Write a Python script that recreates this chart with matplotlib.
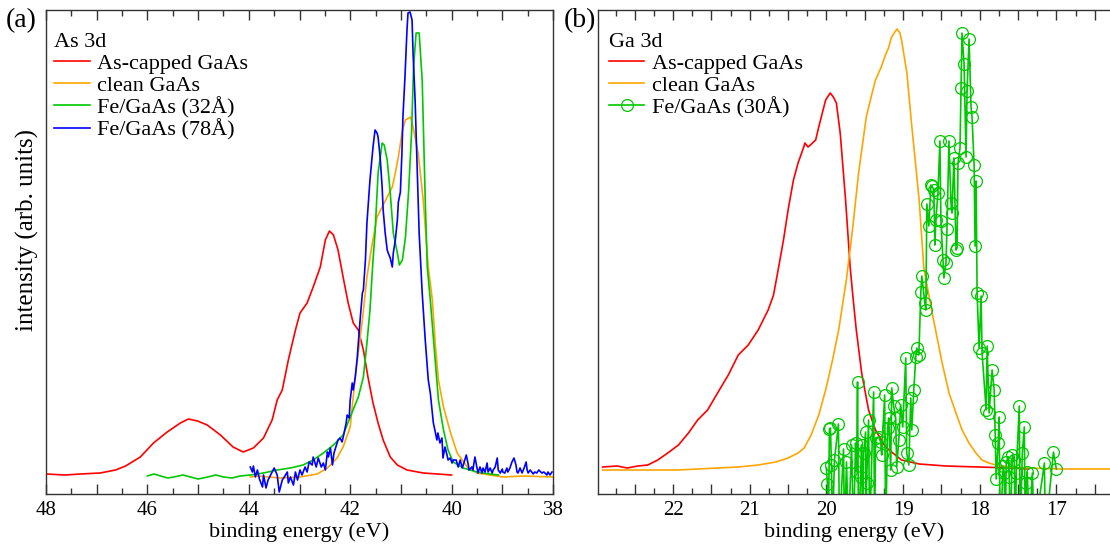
import matplotlib
matplotlib.use("Agg")
import matplotlib.pyplot as plt
from matplotlib.ticker import MultipleLocator, FuncFormatter

plt.rcParams['font.family'] = ['Liberation Serif', 'DejaVu Serif']

# ---------------- As 3d core level: (binding energy eV, intensity arb. units) ----------------
as3d_capped = [
    (48.0, 5.0), (47.62, 4.75), (47.32, 5.0), (46.93, 5.25), (46.63, 6.0), (46.43, 7.0),
    (46.14, 9.25), (45.88, 12.75), (45.61, 15.5), (45.35, 17.75), (45.19, 18.75), (45.01, 18.25),
    (44.82, 17.25), (44.56, 14.75), (44.31, 11.75), (44.11, 10.5), (43.91, 11.5), (43.71, 14.0),
    (43.54, 18.5), (43.44, 23.5), (43.34, 26.0), (43.22, 33.5), (43.08, 41.0), (42.99, 45.25),
    (42.85, 47.75), (42.73, 51.75), (42.59, 56.75), (42.49, 63.5), (42.41, 65.75), (42.33, 64.75),
    (42.24, 61.0), (42.14, 54.25), (42.04, 47.75), (41.94, 42.75), (41.84, 41.0), (41.74, 36.0),
    (41.65, 29.25), (41.55, 22.75), (41.45, 17.75), (41.35, 13.5), (41.21, 9.25), (41.07, 7.25),
    (40.88, 6.0), (40.56, 5.25), (40.0, 4.75),
]

as3d_clean = [
    (43.97, 4.25), (43.83, 4.5), (43.38, 4.0), (42.99, 4.25), (42.65, 5.0), (42.45, 6.5),
    (42.26, 9.0), (42.14, 11.75), (42.0, 16.75), (41.90, 29.25), (41.76, 43.5), (41.67, 54.25),
    (41.57, 62.25), (41.47, 69.25), (41.37, 71.75), (41.27, 74.25), (41.17, 76.75), (41.11, 80.25),
    (41.05, 84.25), (40.97, 91.0), (40.91, 93.5), (40.81, 94.25), (40.76, 91.75), (40.66, 85.25),
    (40.56, 73.5), (40.46, 56.75), (40.38, 48.5), (40.32, 37.25), (40.26, 28.5), (40.16, 21.75),
    (40.02, 15.25), (39.89, 10.25), (39.69, 6.75), (39.50, 5.25), (39.24, 4.75), (38.98, 4.25),
    (38.59, 4.5), (38.0, 4.25),
]

as3d_fe32 = [
    (46.0, 4.5), (45.87, 5.0), (45.74, 4.5), (45.6, 4.0), (45.48, 4.25), (45.3, 4.75),
    (45.15, 4.25), (45.0, 3.75), (44.81, 4.25), (44.65, 4.75), (44.50, 4.25), (44.33, 4.0),
    (44.17, 4.5), (43.97, 4.75), (43.71, 5.25), (43.44, 6.0), (43.18, 6.5), (42.93, 7.25),
    (42.73, 8.5), (42.53, 10.25), (42.33, 12.25), (42.14, 14.75), (42.0, 19.25), (41.84, 24.25),
    (41.74, 29.25), (41.67, 37.75), (41.61, 46.0), (41.55, 58.5), (41.51, 65.25), (41.45, 80.25),
    (41.37, 87.75), (41.33, 87.25), (41.27, 83.5), (41.21, 75.25), (41.15, 65.25), (41.07, 60.25),
    (41.03, 57.25), (40.97, 58.5), (40.91, 64.25), (40.85, 75.25), (40.79, 90.25), (40.75, 106.75),
    (40.70, 115.25), (40.64, 115.25), (40.58, 103.5), (40.52, 73.5), (40.48, 56.75), (40.42, 48.5),
    (40.34, 36.0), (40.26, 23.5), (40.16, 16.0), (40.07, 11.0), (39.97, 8.0), (39.77, 6.5),
    (39.50, 5.5), (39.24, 5.0), (39.08, 4.75),
]

as3d_fe78 = [
    (43.97, 6.75), (43.93, 5.5), (43.91, 7.0), (43.87, 4.25), (43.83, 6.0), (43.79, 3.75),
    (43.73, 1.75), (43.71, 4.75), (43.66, 1.5), (43.62, 3.5), (43.54, 5.5), (43.50, 6.5),
    (43.44, 4.75), (43.40, 0.5), (43.34, 3.5), (43.30, 4.25), (43.24, 5.5), (43.22, 2.75),
    (43.18, 4.25), (43.12, 2.25), (43.08, 5.5), (43.04, 3.5), (42.99, 6.0), (42.95, 4.75),
    (42.89, 6.75), (42.85, 5.5), (42.81, 8.0), (42.75, 7.25), (42.73, 9.25), (42.67, 6.75),
    (42.63, 9.0), (42.57, 6.75), (42.53, 7.75), (42.49, 6.0), (42.45, 10.5), (42.43, 9.25),
    (42.39, 11.5), (42.35, 7.25), (42.32, 10.25), (42.26, 12.75), (42.24, 13.5), (42.20, 14.0),
    (42.16, 13.0), (42.12, 15.25), (42.08, 17.75), (42.06, 19.75), (42.02, 19.0), (42.00, 23.5),
    (41.96, 27.75), (41.94, 26.0), (41.90, 29.25), (41.86, 34.25), (41.84, 37.75), (41.80, 44.25),
    (41.76, 50.25), (41.74, 51.0), (41.70, 58.5), (41.67, 67.75), (41.61, 78.5), (41.55, 86.75),
    (41.51, 91.0), (41.47, 90.25), (41.45, 89.25), (41.41, 84.25), (41.37, 76.75), (41.35, 71.0),
    (41.31, 65.25), (41.27, 61.0), (41.25, 60.25), (41.21, 59.0), (41.17, 56.75), (41.15, 60.25),
    (41.11, 63.5), (41.07, 68.5), (41.05, 73.0), (41.01, 75.5), (40.98, 85.25), (40.96, 94.25),
    (40.92, 104.25), (40.88, 116.0), (40.86, 120.25), (40.82, 120.5), (40.78, 118.5), (40.76, 110.25),
    (40.72, 98.5), (40.68, 81.75), (40.64, 65.25), (40.58, 50.25), (40.52, 38.5), (40.46, 28.5),
    (40.42, 25.25), (40.38, 20.25), (40.36, 17.75), (40.33, 16.0), (40.29, 13.5), (40.27, 15.25),
    (40.23, 12.75), (40.19, 14.0), (40.17, 9.0), (40.13, 11.75), (40.09, 9.75), (40.07, 8.5),
    (40.03, 9.0), (39.99, 7.75), (39.97, 8.5), (39.91, 8.5), (39.87, 6.75), (39.83, 8.5),
    (39.79, 6.5), (39.77, 7.25), (39.71, 9.75), (39.67, 7.25), (39.66, 6.0), (39.60, 6.75),
    (39.58, 6.0), (39.54, 9.25), (39.50, 6.5), (39.48, 5.25), (39.44, 6.75), (39.40, 5.25),
    (39.38, 6.5), (39.34, 5.5), (39.30, 7.75), (39.28, 5.5), (39.24, 6.5), (39.20, 5.25),
    (39.18, 6.0), (39.14, 6.75), (39.10, 9.0), (39.08, 6.0), (39.04, 5.25), (39.00, 6.25),
    (38.99, 5.5), (38.95, 5.25), (38.91, 6.5), (38.89, 5.5), (38.85, 6.5), (38.81, 8.0),
    (38.77, 9.0), (38.73, 7.25), (38.71, 5.5), (38.69, 5.25), (38.65, 6.5), (38.61, 5.25),
    (38.57, 6.5), (38.53, 8.0), (38.51, 6.0), (38.49, 5.25), (38.45, 6.0), (38.39, 5.0),
    (38.36, 5.5), (38.32, 5.25), (38.28, 6.0), (38.22, 5.25), (38.18, 5.5), (38.12, 4.75),
    (38.10, 5.5), (38.06, 4.75), (38.02, 5.5),
]

# ---------------- Ga 3d core level ----------------
ga3d_capped = [
    (22.92, 6.75), (22.73, 7.0), (22.60, 6.5), (22.46, 7.0), (22.33, 7.25), (22.20, 8.5),
    (22.07, 10.25), (21.93, 12.25), (21.80, 15.25), (21.68, 18.5), (21.55, 21.0), (21.42, 25.25),
    (21.28, 29.75), (21.15, 34.75), (21.02, 37.25), (20.89, 41.0), (20.76, 46.0), (20.69, 49.75),
    (20.63, 56.0), (20.56, 63.5), (20.50, 71.0), (20.43, 78.5), (20.37, 82.75), (20.30, 86.5),
    (20.28, 87.75), (20.24, 86.75), (20.21, 87.25), (20.14, 88.5), (20.10, 91.75), (20.05, 95.5),
    (20.01, 98.5), (19.95, 100.25), (19.91, 99.25), (19.87, 97.75), (19.82, 90.25), (19.75, 73.5),
    (19.69, 56.75), (19.65, 48.5), (19.61, 41.0), (19.54, 30.25), (19.45, 21.0), (19.36, 16.0),
    (19.23, 11.75), (19.02, 8.5), (18.79, 7.5), (18.44, 7.0), (18.01, 6.75), (17.58, 6.5),
    (17.36, 6.25),
]

ga3d_clean = [
    (22.92, 6.0), (22.46, 6.0), (21.94, 6.0), (21.68, 6.25), (21.42, 6.5), (21.15, 6.75),
    (20.89, 7.25), (20.66, 8.0), (20.50, 9.0), (20.37, 10.25), (20.29, 11.5), (20.20, 14.75),
    (20.10, 19.75), (20.01, 26.0), (19.92, 33.5), (19.84, 41.0), (19.74, 53.5), (19.66, 66.0),
    (19.58, 80.25), (19.53, 87.25), (19.48, 94.25), (19.41, 99.75), (19.36, 103.5), (19.29, 106.5),
    (19.23, 109.75), (19.19, 111.5), (19.15, 114.25), (19.08, 116.25), (19.04, 115.25), (19.02, 113.5),
    (18.95, 105.25), (18.89, 92.75), (18.79, 73.5), (18.73, 56.75), (18.70, 53.5), (18.62, 45.25),
    (18.49, 32.75), (18.40, 25.25), (18.31, 20.25), (18.23, 16.0), (18.14, 12.75), (18.05, 10.25),
    (17.97, 8.5), (17.88, 7.75), (17.79, 7.25), (17.61, 6.75), (17.35, 6.5), (16.96, 6.25),
    (16.57, 6.25), (16.30, 6.25),
]

# thin-film spectrum; points at -10 fall below the displayed intensity range
ga3d_fe30 = [
    (20.000, 6.5), (19.987, 2.5), (19.974, -10), (19.961, 16.25), (19.947, 16.5), (19.934, 7.25),
    (19.921, -10), (19.895, 8.5), (19.843, 17.5), (19.830, -10), (19.777, 11.25), (19.764, -10),
    (19.738, 8.0), (19.712, -10), (19.672, 12.25), (19.646, -10), (19.620, 12.75), (19.607, 5.5),
    (19.594, 28.0), (19.581, -10), (19.554, 4.25), (19.541, 12.25), (19.528, -10), (19.515, 10.25),
    (19.489, 15.5), (19.482, -10), (19.476, 2.75), (19.450, 18.5), (19.436, -10), (19.384, 25.5),
    (19.371, -10), (19.358, 14.0), (19.318, 14.25), (19.292, 13.0), (19.279, 9.75), (19.240, 24.75),
    (19.227, -10), (19.201, 16.5), (19.187, 19.0), (19.161, 6.0), (19.148, 26.5), (19.122, 22.0),
    (19.096, 19.0), (19.083, 6.75), (19.056, 13.5), (19.030, 22.25), (19.004, 16.75), (18.965, 34.0),
    (18.952, 10.25), (18.925, 7.25), (18.899, 24.0), (18.886, 16.0), (18.860, 26.0), (18.834, 34.25),
    (18.820, 36.5), (18.794, 34.75), (18.768, 50.5), (18.755, 54.5), (18.716, 47.75), (18.703, 46.0),
    (18.689, 72.5), (18.663, 67.0), (18.637, 77.25), (18.624, 77.0), (18.598, 76.0), (18.585, 62.25),
    (18.572, 68.5), (18.545, 75.25), (18.519, 88.25), (18.506, 68.25), (18.480, 58.5), (18.467, 54.0),
    (18.440, 57.75), (18.427, 66.25), (18.401, 88.25), (18.375, 72.75), (18.362, 70.25), (18.336, 84.0),
    (18.309, 61.0), (18.296, 61.5), (18.283, 82.75), (18.257, 86.5), (18.244, 101.5), (18.231, 115.25),
    (18.204, 107.5), (18.178, 84.25), (18.165, 100.75), (18.139, 113.75), (18.113, 96.75), (18.100, 94.25),
    (18.073, 82.25), (18.060, 62.0), (18.047, 78.25), (18.034, 50.25), (18.008, 36.5), (17.982, 49.5),
    (17.969, 35.25), (17.916, 21.0), (17.903, 37.0), (17.877, 20.25), (17.838, 31.0), (17.811, 26.0),
    (17.798, 14.75), (17.785, 3.75), (17.759, 12.75), (17.746, 19.25), (17.733, -10), (17.693, 7.0),
    (17.680, 5.25), (17.667, -10), (17.654, 8.0), (17.628, 9.25), (17.615, 4.25), (17.602, -10),
    (17.575, 9.75), (17.549, 8.5), (17.536, -10), (17.523, 5.25), (17.484, 22.0), (17.471, -10),
    (17.444, 10.25), (17.418, 16.75), (17.405, -10), (17.392, 2.75), (17.379, 5.5), (17.353, -10),
    (17.313, 5.25), (17.287, -10), (17.156, 7.75), (17.143, -10), (17.038, 10.5), (17.000, 6.25),
]

RED, ORANGE, GREEN, BLUE = '#ff0000', '#ffa500', '#00c800', '#0000ff'
LW = 1.2
TICK_FS = 15
LABEL_FS = 16
LEGEND_FS = 16


def xy(series):
    return [p[0] for p in series], [p[1] for p in series]


def style_axis(ax, xlim, major, minor, label_step):
    ax.set_xlim(*xlim)
    ax.set_ylim(0, 121)
    ax.xaxis.set_major_locator(MultipleLocator(major))
    ax.xaxis.set_minor_locator(MultipleLocator(minor))

    def fmt(v, pos):
        r = round(v)
        if abs(v - r) < 1e-6 and r % label_step == 0:
            return f"{r:d}"
        return ""

    ax.xaxis.set_major_formatter(FuncFormatter(fmt))
    ax.tick_params(axis='x', which='both', direction='in', top=True, bottom=True,
                   labelsize=TICK_FS, pad=5, color='#333333', width=1.0)
    ax.tick_params(axis='x', which='major', length=7)
    ax.tick_params(axis='x', which='minor', length=4)
    ax.tick_params(axis='y', which='both', left=False, right=False, labelleft=False)
    for s in ax.spines.values():
        s.set_color('#333333')
        s.set_linewidth(1.0)
    ax.set_xlabel('binding energy (eV)', fontsize=LABEL_FS, labelpad=2)


def add_legend(ax, title, x0):
    return ax.legend(loc='upper left', bbox_to_anchor=(x0, 0.952), title=title,
                     frameon=False, fontsize=LEGEND_FS, title_fontsize=LEGEND_FS,
                     handlelength=1.6, handletextpad=0.35, labelspacing=0.05,
                     borderpad=0, borderaxespad=0, alignment='left', numpoints=1)


fig = plt.figure(figsize=(11.10, 5.47), dpi=100)
ax_a = fig.add_axes([0.04144, 0.09689, 0.45676, 0.88483])
ax_b = fig.add_axes([0.53874, 0.09689, 0.46126, 0.88483])

# --- panel (a): As 3d ---
ax_a.plot(*xy(as3d_capped), color=RED, lw=LW, label='As-capped GaAs')
ax_a.plot(*xy(as3d_clean), color=ORANGE, lw=LW, label='clean GaAs')
ax_a.plot(*xy(as3d_fe32), color=GREEN, lw=LW, label='Fe/GaAs (32Å)')
ax_a.plot(*xy(as3d_fe78), color=BLUE, lw=LW, label='Fe/GaAs (78Å)')
style_axis(ax_a, (48, 38), 1.0, 0.5, 2)
add_legend(ax_a, 'As 3d', 0.016)

# --- panel (b): Ga 3d ---
ax_b.plot(*xy(ga3d_capped), color=RED, lw=LW, label='As-capped GaAs')
ax_b.plot(*xy(ga3d_clean), color=ORANGE, lw=LW, label='clean GaAs')
ax_b.plot(*xy(ga3d_fe30), color=GREEN, lw=LW, marker='o', ms=8.5, mfc='none',
          mec=GREEN, mew=0.9, label='Fe/GaAs (30Å)')
style_axis(ax_b, (22.98, 16.3), 0.5, 0.25, 1)
ax_b.spines['right'].set_visible(False)
add_legend(ax_b, 'Ga 3d', 0.021)

fig.text(0.0243, 0.58, 'intensity (arb. units)', rotation=90, ha='center', va='center',
         fontsize=18)
fig.text(0.019, 0.963, '(a)', ha='center', va='center', fontsize=20)
fig.text(0.5225, 0.963, '(b)', ha='center', va='center', fontsize=20)

fig.savefig('out.png', dpi=100)
